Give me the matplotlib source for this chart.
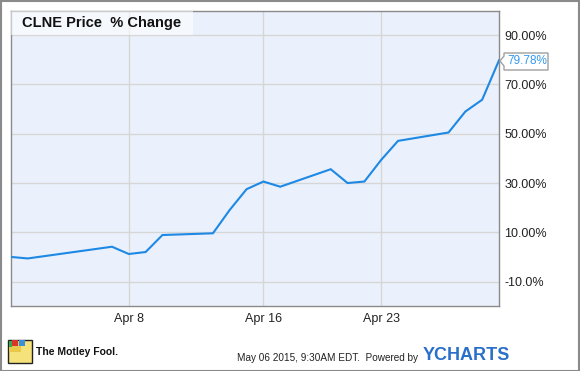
import matplotlib
matplotlib.use("Agg")
import matplotlib.pyplot as plt
import matplotlib.dates as mdates
from matplotlib.patches import Rectangle, Polygon
import numpy as np
import datetime as dt

plt.rcParams['font.family'] = ['Liberation Sans', 'DejaVu Sans']

# ---- data ----
dates = ["2015-04-01", "2015-04-02", "2015-04-06", "2015-04-07", "2015-04-08",
         "2015-04-09", "2015-04-10", "2015-04-13", "2015-04-14", "2015-04-15",
         "2015-04-16", "2015-04-17", "2015-04-20", "2015-04-21", "2015-04-22",
         "2015-04-23", "2015-04-24", "2015-04-27", "2015-04-28", "2015-04-29",
         "2015-04-30"]
pct_change = [0.0, -0.6, 3.2, 4.15, 1.2, 2.0, 8.9, 9.6, 19.1, 27.5,
              30.6, 28.5, 35.6, 30.0, 30.6, 39.4, 47.1, 50.5, 59.0, 63.8,
              79.78]
y_ticks = [-10, 10, 30, 50, 70, 90]
y_tick_labels = ["-10.0%", "10.00%", "30.00%", "50.00%", "70.00%", "90.00%"]
x_ticks = ["2015-04-08", "2015-04-16", "2015-04-23"]
x_tick_labels = ["Apr 8", "Apr 16", "Apr 23"]
title = "CLNE Price  % Change"
last_label = "79.78%"
footer = "May 06 2015, 9:30AM EDT.  Powered by"

W, H = 580, 371
fig = plt.figure(figsize=(W / 100, H / 100), dpi=100)
fig.patch.set_facecolor("white")

def fx(px):
    return px / W

def fy(py):
    return 1 - py / H

x = [dt.datetime.strptime(d, "%Y-%m-%d") for d in dates]
xt = [dt.datetime.strptime(d, "%Y-%m-%d") for d in x_ticks]

L, R, T, B = 11, 499, 11, 306
ax = fig.add_axes([fx(L), fy(B), fx(R - L), (B - T) / H])
ax.set_facecolor("#eaf1fc")
ax.plot(x, pct_change, color="#1e88e5", lw=1.5, solid_joinstyle="miter", zorder=3)
ax.set_xlim(x[0], x[-1])
ax.set_ylim(-19.9, 99.8)
ax.set_yticks(y_ticks)
ax.set_yticklabels(y_tick_labels)
ax.set_xticks(xt)
ax.set_xticklabels(x_tick_labels)
ax.yaxis.tick_right()
ax.tick_params(axis="both", length=0, labelsize=9, colors="#222222")
ax.tick_params(axis="y", pad=4)
ax.tick_params(axis="x", pad=5)
ax.grid(True, color="#d6d6d6", lw=1)
ax.set_axisbelow(True)
for s in ax.spines.values():
    s.set_color("#8a8a8a")
    s.set_linewidth(1)

# title box
ax.add_patch(Rectangle((0, 1 - 24 / (B - T)), (193 - L) / (R - L), 24 / (B - T),
                       transform=ax.transAxes, facecolor="white", alpha=0.55,
                       edgecolor="none", zorder=4))
ax.text(11 / (R - L), 1 - 12 / (B - T), title, transform=ax.transAxes,
        fontsize=10.5, fontweight="bold", va="center", ha="left", color="#111111",
        zorder=5)

# last value callout
ly = fy(61)
fig.patches.append(Polygon([[fx(500), ly], [fx(504), fy(56)], [fx(504), fy(53)],
                            [fx(548), fy(53)], [fx(548), fy(70)], [fx(504), fy(70)],
                            [fx(504), fy(66)]], closed=True, transform=fig.transFigure,
                           facecolor="white", edgecolor="#a0a0a0", lw=1))
fig.text(fx(507), ly, last_label, color="#3399ee", fontsize=8.5, va="center", ha="left")

# outer border
fig.patches.append(Rectangle((0.5 / W, 0.5 / H), 1 - 1.5 / W, 1 - 1.5 / H,
                             transform=fig.transFigure, fill=False,
                             edgecolor="#8a8a8a", lw=1.5))

# Motley Fool logo (simple)
fig.patches.append(Rectangle((fx(8), fy(363)), fx(24), 23 / H, transform=fig.transFigure,
                             facecolor="#f6e27a", edgecolor="#222222", lw=1))
fig.patches.append(Rectangle((fx(9), fy(352)), fx(12), 11 / H, transform=fig.transFigure,
                             facecolor="#e8c84a", edgecolor="none"))
fig.patches.append(Rectangle((fx(12), fy(346)), fx(6), 6 / H, transform=fig.transFigure,
                             facecolor="#d9342b", edgecolor="none"))
fig.patches.append(Rectangle((fx(19), fy(346)), fx(6), 6 / H, transform=fig.transFigure,
                             facecolor="#3a8fd8", edgecolor="none"))
fig.patches.append(Rectangle((fx(9), fy(347)), fx(3), 6 / H, transform=fig.transFigure,
                             facecolor="#3aa84a", edgecolor="none"))
fig.text(fx(36), fy(352), "The Motley Fool.", fontsize=7.5, fontweight="bold",
         color="#111111", va="center", ha="left")

fig.text(fx(418), fy(358), footer, fontsize=7.2, color="#222222", va="center", ha="right")
fig.text(fx(423), fy(356), "YCHARTS", fontsize=13, fontweight="bold", color="#2a6fc9",
         va="center", ha="left")

fig.savefig("out.png", dpi=100, facecolor="white")
